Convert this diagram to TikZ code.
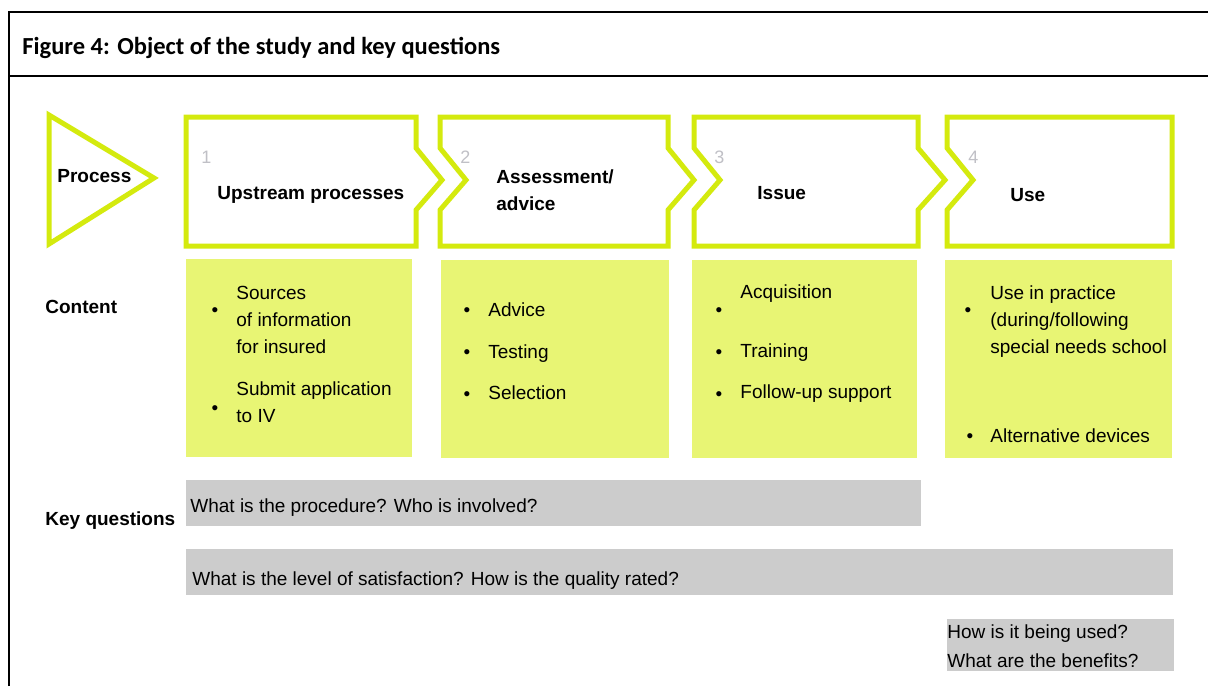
\documentclass[tikz,border=0pt]{standalone}
\usepackage{fontspec}
\setmainfont{Liberation Sans}
\newfontfamily\titlefont{Carlito}
\definecolor{verdelime}{RGB}{212,234,14}
\definecolor{verdechiaro}{RGB}{232,245,116}
\definecolor{grigioq}{RGB}{204,204,204}
\definecolor{grigionum}{RGB}{192,192,198}
\begin{document}
\begin{tikzpicture}[x=0.5pt, y=-0.5pt,
        passo/.style={draw=verdelime, line width=2.5pt, line join=miter, fill=white},
        testo/.style={anchor=base west, inner sep=0pt, align=left, font=\fontsize{9.5}{13.5}\selectfont},
        etichetta/.style={testo, font=\fontsize{9.5}{13.5}\selectfont\bfseries},
        numero/.style={testo, text=grigionum, font=\fontsize{9}{11}\selectfont},
        punto/.style={anchor=base, inner sep=0pt, font=\fontsize{9.5}{11}\selectfont}]
        \useasboundingbox (0,0) rectangle (1208,686);

        % Cornice e titolo
        \draw[line width=1.4pt] (9,686) -- (9,12) -- (1208,12);
        \draw[line width=1.4pt] (9,76) -- (1208,76);
        \node[anchor=base west, inner sep=0pt, font=\titlefont\fontsize{12.25}{14}\selectfont\bfseries] (titolo) at (22,54) {Figure 4: Object of the study and key questions};

        % Freccia del processo
        \draw[passo] (49,115) -- (154,178) -- (49,244) -- cycle;
        \node[etichetta] (process) at (57,182) {Process};

        % Fasi (chevron)
        \draw[passo] (186,117) -- (416,117) -- (416,148) -- (442,180) -- (416,210) -- (416,246) -- (186,246) -- cycle;
        \draw[passo] (440,117) -- (668,117) -- (668,148) -- (694,180) -- (668,210) -- (668,246) -- (440,246) -- (440,210) -- (466,180) -- (440,148) -- cycle;
        \draw[passo] (694,117) -- (918,117) -- (918,148) -- (945,180) -- (918,210) -- (918,246) -- (694,246) -- (694,210) -- (720,180) -- (694,148) -- cycle;
        \draw[passo] (947,117) -- (1172,117) -- (1172,246) -- (947,246) -- (947,210) -- (973,180) -- (947,148) -- cycle;

        \node[numero] (n1) at (201,163) {1};
        \node[numero] (n2) at (460,163) {2};
        \node[numero] (n3) at (714,163) {3};
        \node[numero] (n4) at (968,163) {4};

        % base = ultima riga per i nodi su piu righe
        \node[etichetta] (upstream) at (217,199) {Upstream processes};
        \node[etichetta] (assessment) at (496,210) {Assessment/\\advice};
        \node[etichetta] (issue) at (757,199) {Issue};
        \node[etichetta] (use) at (1010,201) {Use};

        % Contenuti
        \node[etichetta] (content) at (45,313) {Content};
        \fill[verdechiaro] (186,259) rectangle (412,457);
        \fill[verdechiaro] (441,260) rectangle (669,458);
        \fill[verdechiaro] (692,260) rectangle (917,458);
        \fill[verdechiaro] (945,260) rectangle (1172,458);

        \node[punto] (p11) at (215,316) {\textbullet};
        \node[testo] (sources) at (236,353) {Sources\\of information\\for insured};
        \node[punto] (p12) at (215,414) {\textbullet};
        \node[testo] (submit) at (236,422) {Submit application\\to IV};

        \node[punto] (p21) at (467,316) {\textbullet};
        \node[testo] (advice) at (488,316) {Advice};
        \node[punto] (p22) at (467,358) {\textbullet};
        \node[testo] (testing) at (488,358) {Testing};
        \node[punto] (p23) at (467,400) {\textbullet};
        \node[testo] (selection) at (488,399) {Selection};

        \node[punto] (p31) at (719,316) {\textbullet};
        \node[testo] (acquisition) at (740,298) {Acquisition};
        \node[punto] (p32) at (719,358) {\textbullet};
        \node[testo] (training) at (740,357) {Training};
        \node[punto] (p33) at (719,400) {\textbullet};
        \node[testo] (followup) at (740,398) {Follow-up support};

        \node[punto] (p41) at (968,316) {\textbullet};
        \node[testo] (practice) at (990,353) {Use in practice\\(during/following\\special needs school};
        \node[punto] (p42) at (970,442) {\textbullet};
        \node[testo] (devices) at (990,442) {Alternative devices};

        % Domande chiave
        \node[etichetta] (keyq) at (45,525) {Key questions};
        \fill[grigioq] (186,480) rectangle (921,526);
        \fill[grigioq] (186,549) rectangle (1173,595);
        \fill[grigioq] (947,619) rectangle (1174,671);
        \node[testo] (q1) at (190,512) {What is the procedure? Who is involved?};
        \node[testo] (q2) at (192,585) {What is the level of satisfaction? How is the quality rated?};
        \node[testo, font=\fontsize{9.5}{14.5}\selectfont] (q3) at (947,667) {How is it being used?\\What are the benefits?};
\end{tikzpicture}
\end{document}
